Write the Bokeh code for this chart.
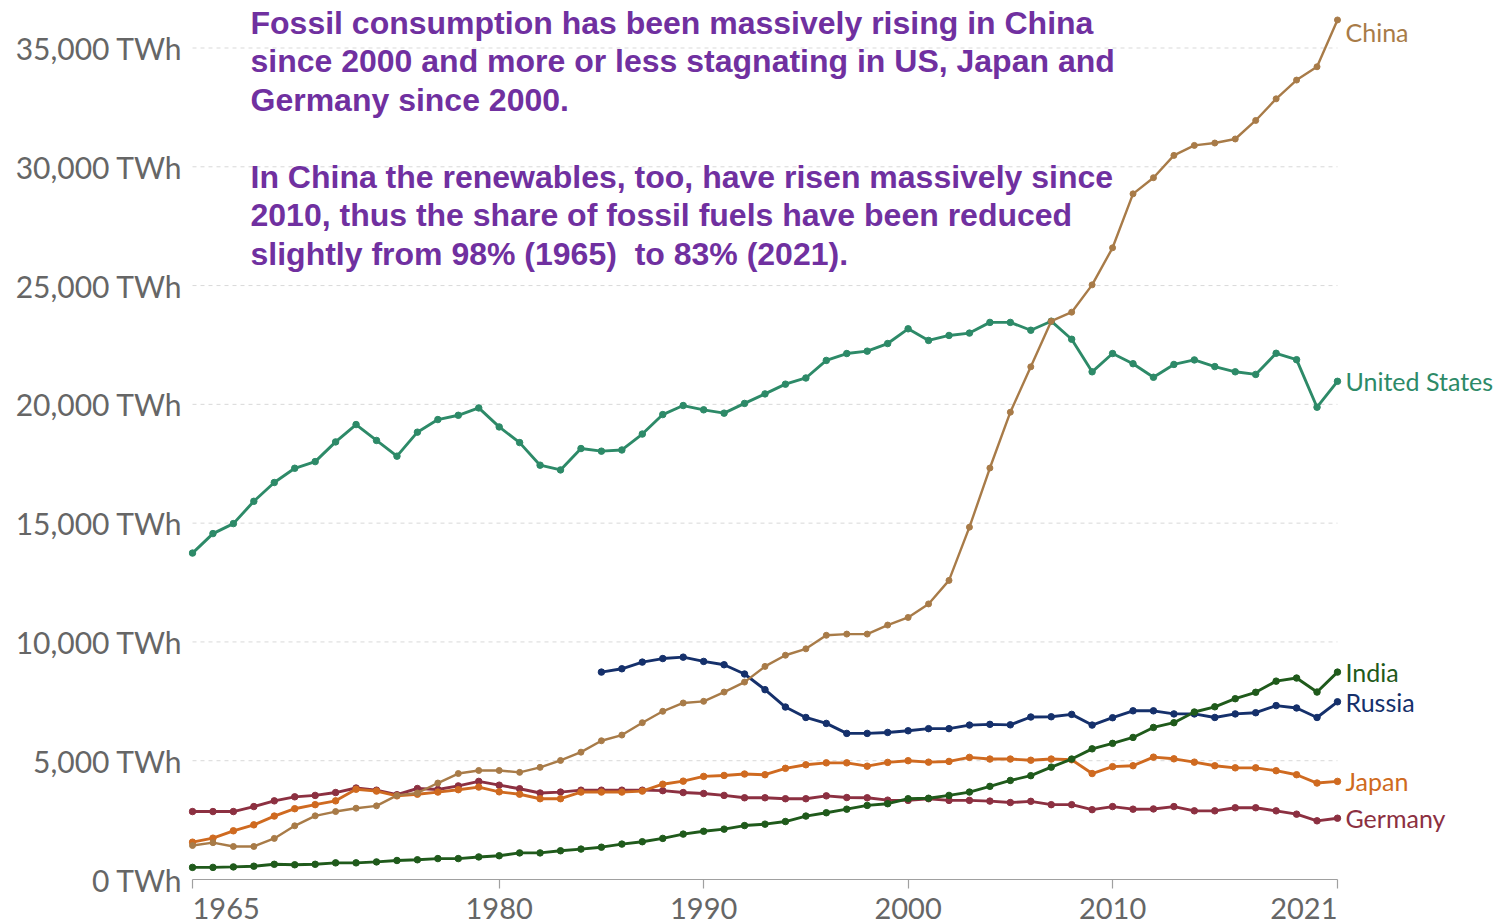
from bokeh.plotting import figure
from bokeh.models import Range1d, FixedTicker, ColumnDataSource
from bokeh.core.properties import value
from bokeh.embed import file_html
from bokeh.resources import INLINE

years = list(range(1965, 2022))
russia_years = list(range(1985, 2022))

united_states = [13740, 14560, 14980, 15920, 16710, 17310, 17590, 18420, 19150, 18480,
                 17820, 18830, 19360, 19540, 19850, 19050, 18390, 17440, 17240, 18140,
                 18030, 18080, 18750, 19570, 19950, 19770, 19630, 20040, 20440, 20850,
                 21110, 21850, 22140, 22240, 22560, 23180, 22690, 22900, 23000, 23450,
                 23450, 23120, 23500, 22740, 21370, 22140, 21710, 21140, 21680, 21870,
                 21590, 21370, 21260, 22150, 21880, 19880, 20970]
china = [1430, 1550, 1390, 1390, 1730, 2260, 2680, 2860, 3000, 3100,
         3540, 3640, 4060, 4460, 4590, 4590, 4510, 4720, 5010, 5360,
         5840, 6080, 6600, 7080, 7430, 7500, 7890, 8310, 8970, 9440,
         9710, 10280, 10330, 10330, 10710, 11030, 11600, 12590, 14830, 17320,
         19670, 21580, 23500, 23880, 25030, 26590, 28860, 29540, 30480, 30900,
         31000, 31170, 31950, 32860, 33650, 34210, 36180]
india = [510, 510, 530, 560, 640, 620, 640, 700, 700, 740,
         800, 830, 880, 880, 950, 1000, 1120, 1120, 1210, 1280,
         1360, 1490, 1590, 1730, 1910, 2030, 2120, 2270, 2330, 2440,
         2670, 2810, 2960, 3120, 3190, 3400, 3420, 3540, 3680, 3920,
         4170, 4370, 4730, 5070, 5500, 5730, 5980, 6400, 6600, 7050,
         7270, 7610, 7880, 8350, 8480, 7890, 8730]
russia = [8730, 8870, 9150, 9300, 9360, 9180, 9040, 8650, 7990, 7260,
          6820, 6570, 6150, 6150, 6190, 6260, 6350, 6350, 6500, 6530,
          6510, 6840, 6850, 6950, 6500, 6810, 7100, 7100, 6970, 6970,
          6820, 6970, 7020, 7320, 7220, 6820, 7480]
japan = [1570, 1740, 2050, 2300, 2670, 2980, 3150, 3310, 3800, 3720,
         3520, 3590, 3680, 3780, 3890, 3690, 3590, 3400, 3400, 3680,
         3680, 3680, 3720, 4010, 4140, 4340, 4380, 4440, 4410, 4680,
         4830, 4910, 4910, 4770, 4930, 5000, 4940, 4970, 5140, 5070,
         5070, 5020, 5070, 5040, 4460, 4750, 4790, 5150, 5080, 4940,
         4790, 4700, 4700, 4580, 4410, 4060, 4130]
germany = [2860, 2860, 2860, 3070, 3310, 3480, 3540, 3660, 3850, 3760,
           3570, 3830, 3790, 3940, 4130, 3970, 3820, 3640, 3680, 3760,
           3760, 3760, 3760, 3740, 3660, 3620, 3540, 3440, 3440, 3400,
           3400, 3520, 3450, 3440, 3340, 3330, 3400, 3330, 3330, 3300,
           3240, 3290, 3150, 3150, 2940, 3070, 2960, 2970, 3070, 2890,
           2890, 3020, 3020, 2890, 2750, 2470, 2580]

y_ticks = [0, 5000, 10000, 15000, 20000, 25000, 30000, 35000]
y_tick_labels = ["0 TWh", "5,000 TWh", "10,000 TWh", "15,000 TWh", "20,000 TWh",
                 "25,000 TWh", "30,000 TWh", "35,000 TWh"]
x_ticks = [1965, 1980, 1990, 2000, 2010, 2021]
x_tick_labels = ["1965", "1980", "1990", "2000", "2010", "2021"]

note_lines = [
    "Fossil consumption has been massively rising in China",
    "since 2000 and more or less stagnating in US, Japan and",
    "Germany since 2000.",
    "",
    "In China the renewables, too, have risen massively since",
    "2010, thus the share of fossil fuels have been reduced",
    "slightly from 98% (1965)\u00a0 to 83% (2021).",
]

# (name, x, y, color) in drawing order
series = [
    ("Germany", years, germany, "#8c3041"),
    ("Japan", years, japan, "#cf6a20"),
    ("Russia", russia_years, russia, "#15306b"),
    ("India", years, india, "#1f5a1b"),
    ("United States", years, united_states, "#2d8a68"),
    ("China", years, china, "#a87b48"),
]

# ---- layout geometry (pixels inside the figure) ----
W, H = 1499, 924
frame_left = 188
first_tick_px = 192
px_per_year = 20.446
zero_px = 879.0
top_tick_px = 47.5

x_start = x_ticks[0] - (first_tick_px - frame_left) / px_per_year
x_end = x_start + (W - frame_left) / px_per_year
px_per_unit = (zero_px - top_tick_px) / y_ticks[-1]
y_end = zero_px / px_per_unit
y_start = -(H - zero_px) / px_per_unit

p = figure(width=W, height=H, x_range=Range1d(x_start, x_end),
           y_range=Range1d(y_start, y_end), output_backend="svg",
           toolbar_location=None, min_border_left=frame_left, min_border_right=0,
           min_border_top=0, min_border_bottom=0)
p.outline_line_color = None
p.xgrid.visible = False
p.ygrid.visible = False
p.background_fill_color = "white"
p.border_fill_color = "white"

# dashed horizontal grid lines between first and last year
p.segment(x0=x_ticks[0], x1=x_ticks[-1], y0=y_ticks[1:], y1=y_ticks[1:],
          line_color="#d9d9d9", line_dash="4 4", line_width=1)

# y axis
ya = p.yaxis[0]
ya.ticker = FixedTicker(ticks=y_ticks)
ya.major_label_overrides = {t: l for t, l in zip(y_ticks, y_tick_labels)}
ya.axis_line_color = None
ya.major_tick_line_color = None
ya.minor_tick_line_color = None
ya.major_label_text_font = "Lato"
ya.major_label_text_font_size = "30px"
ya.major_label_text_color = "#666666"
ya.major_label_standoff = 0

# x axis at y = 0
xa = p.xaxis[0]
xa.fixed_location = 0
xa.bounds = (x_ticks[0], x_ticks[-1])
xa.ticker = FixedTicker(ticks=x_ticks)
overrides = {t: l for t, l in zip(x_ticks, x_tick_labels)}
overrides[x_ticks[0]] = ""
overrides[x_ticks[-1]] = ""
xa.major_label_overrides = overrides
xa.axis_line_color = "#a0a0a0"
xa.axis_line_width = 1.2
xa.major_tick_line_color = "#a0a0a0"
xa.major_tick_line_width = 1.2
xa.major_tick_out = 9
xa.major_tick_in = 0
xa.minor_tick_line_color = None
xa.major_label_text_font = "Lato"
xa.major_label_text_font_size = "29px"
xa.major_label_text_color = "#666666"
xa.major_label_standoff = 9

# first / last year labels aligned to the ends of the axis
p.text(x=[x_ticks[0]], y=[0], text=[x_tick_labels[0]], text_align="left",
       text_baseline="top", y_offset=18, text_font=value("Lato"),
       text_font_size="29px", text_color="#666666")
p.text(x=[x_ticks[-1]], y=[0], text=[x_tick_labels[-1]], text_align="right",
       text_baseline="top", y_offset=18, text_font=value("Lato"),
       text_font_size="29px", text_color="#666666")

# series
label_x, label_y, label_text, label_color = [], [], [], []
label_top_limit = y_end - 31 / px_per_unit
for name, xs, ys, color in series:
    lw = 2.4 if name == "China" else 2.9
    p.line(xs, ys, line_color=color, line_width=lw)
    p.scatter(xs, ys, size=6 if name == "China" else 6.5, color=color)
    label_x.append(xs[-1] + 8 / px_per_year)
    label_y.append(min(ys[-1], label_top_limit))
    label_text.append(name)
    label_color.append(color)

lsrc = ColumnDataSource(dict(x=label_x, y=label_y, text=label_text, color=label_color))
p.text(x="x", y="y", text="text", text_color="color", source=lsrc,
       text_font=value("Lato"), text_font_size="25px", text_baseline="middle",
       text_align="left")

# annotation text
note_x = x_ticks[0] + 58 / px_per_year
first_baseline_px = 22
line_step = 38.5
nx, ny, nt = [], [], []
for i, line in enumerate(note_lines):
    if line:
        nx.append(note_x)
        ny.append((zero_px - (first_baseline_px + i * line_step)) / px_per_unit)
        nt.append(line)
p.text(x=nx, y=ny, text=nt, text_font=value("Liberation Sans"),
       text_font_style="bold", text_font_size="32px", text_color="#7030a0",
       text_baseline="alphabetic", text_align="left")

open("out.html", "w").write(file_html(p, INLINE))
